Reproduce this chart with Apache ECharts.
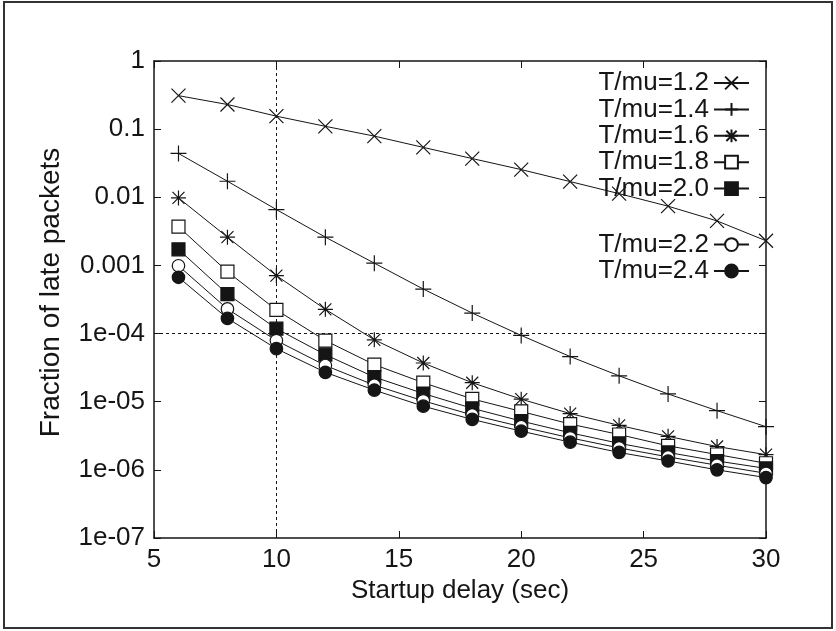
<!DOCTYPE html>
<html><head><meta charset="utf-8">
<script src="https://cdn.jsdelivr.net/npm/echarts@6/dist/echarts.min.js"></script>
<style>html,body{margin:0;padding:0;background:#fff}#c{width:836px;height:631px}</style>
</head><body><div id="c"></div>
<script>
// Startup delay (sec)
const delays = [6, 8, 10, 12, 14, 16, 18, 20, 22, 24, 26, 28, 30];
const names = ['T/mu=1.2', 'T/mu=1.4', 'T/mu=1.6', 'T/mu=1.8', 'T/mu=2.0', 'T/mu=2.2', 'T/mu=2.4'];
// Fraction of late packets per series
const mu12 = [0.31, 0.23, 0.155, 0.11, 0.079, 0.054, 0.037, 0.0255, 0.017, 0.0113, 0.0074, 0.0045, 0.0023];
const mu14 = [0.044, 0.0172, 0.0066, 0.0026, 0.00108, 4.5e-4, 2.0e-4, 9.4e-5, 4.6e-5, 2.4e-5, 1.3e-5, 7.4e-6, 4.3e-6];
const mu16 = [0.0098, 0.0026, 7.1e-4, 2.27e-4, 8.1e-5, 3.7e-5, 1.9e-5, 1.09e-5, 6.7e-6, 4.5e-6, 3.1e-6, 2.2e-6, 1.67e-6];
const mu18 = [3.7e-3, 8.1e-4, 2.22e-4, 7.9e-5, 3.5e-5, 1.9e-5, 1.1e-5, 7.2e-6, 4.7e-6, 3.3e-6, 2.25e-6, 1.68e-6, 1.25e-6];
const mu20 = [1.72e-3, 3.8e-4, 1.18e-4, 4.9e-5, 2.3e-5, 1.32e-5, 8.0e-6, 5.2e-6, 3.5e-6, 2.45e-6, 1.8e-6, 1.35e-6, 1.05e-6];
const mu22 = [9.9e-4, 2.3e-4, 7.9e-5, 3.4e-5, 1.75e-5, 1.03e-5, 6.4e-6, 4.3e-6, 2.95e-6, 2.1e-6, 1.55e-6, 1.17e-6, 8.9e-7];
const mu24 = [6.7e-4, 1.67e-4, 6.0e-5, 2.7e-5, 1.48e-5, 8.6e-6, 5.5e-6, 3.7e-6, 2.55e-6, 1.8e-6, 1.35e-6, 1.0e-6, 7.7e-7];
// y tick labels for exponents -7 .. 0
const yTickLabels = ['1e-07', '1e-06', '1e-05', '1e-04', '0.001', '0.01', '0.1', '1'];
const xTicks = [5, 10, 15, 20, 25, 30];
const yMin = 1e-7, yMax = 1;
// reference lines
const refX = 10;
const refY = 1e-4;

const INK = '#151515';
const FONT = 'Liberation Sans, Arial, Helvetica, sans-serif';
const symX = 'path://M0,0L10,10M0,10L10,0';
const symPlus = 'path://M5,0L5,10M0,5L10,5';
const symStar = 'path://M5,0L5,10M0,5L10,5M1,1L9,9M1,9L9,1';

function mk(name, vals, symbol, size, fill, idx) {
  return {
    type: 'line', name: name,
    data: delays.map((d, i) => [d, vals[i]]),
    symbol: symbol, symbolSize: size,
    lineStyle: { color: INK, width: 1 },
    itemStyle: { color: fill, borderColor: INK, borderWidth: 1.2 },
    emphasis: { disabled: true },
    z: 3 + idx
  };
}

const series = [
  mk(names[0], mu12, symX, 14, INK, 0),
  mk(names[1], mu14, symPlus, 16, INK, 1),
  mk(names[2], mu16, symStar, 15, INK, 2),
  mk(names[3], mu18, 'rect', 13, '#fff', 3),
  mk(names[4], mu20, 'rect', 13, INK, 4),
  mk(names[5], mu22, 'circle', 12.5, '#fff', 5),
  mk(names[6], mu24, 'circle', 12.5, INK, 6)
];
series[0].markLine = {
  silent: true, symbol: ['none', 'none'], z: 1,
  label: { show: false },
  lineStyle: { color: INK, width: 1, type: [3, 3] },
  data: [
    [{ coord: [refX, yMin] }, { coord: [refX, yMax] }],
    [{ coord: [xTicks[0], refY] }, { coord: [xTicks[xTicks.length - 1], refY] }]
  ]
};

const tickStyle = { show: true, inside: true, length: 7, lineStyle: { color: INK, width: 1 } };
const lineAx = { show: true, lineStyle: { color: INK, width: 1.5 } };
const legendCommon = {
  orient: 'vertical', right: 86, padding: 0, align: 'right',
  itemWidth: 35, itemHeight: 16, itemGap: 0.4,
  textStyle: { fontFamily: FONT, fontSize: 26, color: INK, lineHeight: 23 },
  selectedMode: false
};

const option = {
  animation: false,
  backgroundColor: '#fff',
  grid: { left: 154, right: 70, top: 61, bottom: 93, containLabel: false },
  legend: [
    Object.assign({ top: 70, data: names.slice(0, 5) }, legendCommon),
    Object.assign({ top: 231.6, data: names.slice(5) }, legendCommon)
  ],
  xAxis: [{
    type: 'value', min: xTicks[0], max: xTicks[xTicks.length - 1], interval: 5,
    axisLine: lineAx, axisTick: tickStyle, splitLine: { show: false },
    axisLabel: { fontFamily: FONT, fontSize: 26, color: INK, margin: 9 },
    name: 'Startup delay (sec)', nameLocation: 'middle', nameGap: 39,
    nameTextStyle: { fontFamily: FONT, fontSize: 26, color: INK }
  }, {
    type: 'value', position: 'top', min: xTicks[0], max: xTicks[xTicks.length - 1], interval: 5,
    axisLine: lineAx, axisTick: tickStyle, axisLabel: { show: false }, splitLine: { show: false }
  }],
  yAxis: [{
    type: 'log', logBase: 10, min: yMin, max: yMax, splitNumber: 7,
    axisLine: lineAx, axisTick: tickStyle, splitLine: { show: false },
    axisLabel: {
      fontFamily: FONT, fontSize: 26, color: INK, margin: 9,
      formatter: v => yTickLabels[Math.round(Math.log10(v)) + 7]
    },
    name: 'Fraction of late packets', nameLocation: 'middle', nameGap: 89,
    nameTextStyle: { fontFamily: FONT, fontSize: 28, color: INK, padding: [0, 0, 0, 14] }
  }, {
    type: 'log', logBase: 10, min: yMin, max: yMax, splitNumber: 7, position: 'right',
    axisLine: lineAx, axisTick: tickStyle, axisLabel: { show: false }, splitLine: { show: false }
  }],
  graphic: [{
    type: 'rect', silent: true, z: 100,
    shape: { x: 4, y: 2, width: 828, height: 626 },
    style: { fill: 'none', stroke: '#333', lineWidth: 2 }
  }],
  series: series
};

const chart = echarts.init(document.getElementById('c'), null, { renderer: 'canvas' });
chart.setOption(option);
</script>
</body></html>
